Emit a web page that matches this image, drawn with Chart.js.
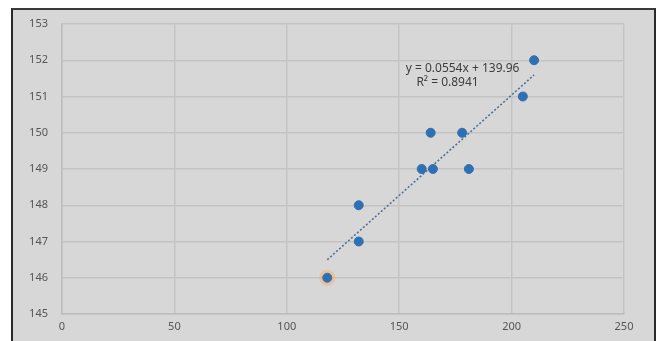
<!DOCTYPE html>
<html>
<head>
<meta charset="utf-8">
<script src="https://cdn.jsdelivr.net/npm/chart.js@4"></script>
<style>
  html, body { margin: 0; padding: 0; background: #ffffff; }
  #wrap { position: relative; width: 659px; height: 341px; overflow: hidden; }
  #frame {
    position: absolute; left: 11px; top: 8px; width: 641px; height: 340px;
    background: #d7d7d7; border-top: 2px solid #3a3a3a;
    border-left: 2px solid #2a2a2a; border-right: 2px solid #2a2a2a;
  }
  canvas { position: absolute; left: 0; top: 0; }
</style>
</head>
<body>
<div id="wrap">
  <div id="frame"></div>
  <canvas id="chart" width="659" height="341"></canvas>
</div>
<script>
// scatter values
const xValues = [118, 132, 132, 160, 165, 164, 178, 181, 205, 210];
const yValues = [146, 148, 147, 149, 149, 150, 150, 149, 151, 152];

// trendline as printed on the chart
const slope = 0.0554;
const intercept = 139.96;
const trendX = [118, 210];
const equationLines = ['y = 0.0554x + 139.96', 'R\u00B2 = 0.8941'];

// axes
const xTicks = [0, 50, 100, 150, 200, 250];
const yTicks = [145, 146, 147, 148, 149, 150, 151, 152, 153];

const points = xValues.map((x, i) => ({ x: x, y: yValues[i] }));
const trendPoints = trendX.map(x => ({ x: x, y: slope * x + intercept }));

const equationLabel = {
  id: 'equationLabel',
  afterDatasetsDraw(chart) {
    const { ctx, scales } = chart;
    ctx.save();
    ctx.font = '12px "Noto Sans", sans-serif';
    ctx.fillStyle = '#3c3c3c';
    ctx.textAlign = 'center';
    ctx.textBaseline = 'middle';
    ctx.fillText(equationLines[0], scales.x.getPixelForValue(178.2), scales.y.getPixelForValue(151.77));
    ctx.fillText(equationLines[1], scales.x.getPixelForValue(171.5), scales.y.getPixelForValue(151.38));
    ctx.restore();
  }
};

new Chart(document.getElementById('chart').getContext('2d'), {
  type: 'scatter',
  data: {
    datasets: [
      {
        label: 'Linear trend',
        type: 'line',
        data: trendPoints,
        borderColor: '#4d6f96',
        borderWidth: 1.6,
        borderDash: [2, 2],
        pointRadius: 0,
        fill: false,
        order: 2
      },
      {
        label: 'Values',
        data: points,
        backgroundColor: '#2f70b3',
        borderColor: '#2f70b3',
        pointRadius: 4.5,
        order: 1
      },
      {
        label: 'Highlight',
        data: [points[0]],
        backgroundColor: 'rgba(255, 170, 90, 0.45)',
        borderWidth: 0,
        pointRadius: 8,
        order: 3
      }
    ]
  },
  options: {
    responsive: false,
    animation: false,
    layout: { padding: { top: 24, right: 35, left: 0, bottom: 0 } },
    plugins: {
      legend: { display: false },
      tooltip: { enabled: false }
    },
    scales: {
      x: {
        type: 'linear',
        min: 0,
        max: 250,
        afterBuildTicks(scale) { scale.ticks = xTicks.map(v => ({ value: v })); },
        afterFit(scale) { scale.height = 27; },
        grid: { color: '#c4c4c4', lineWidth: 1.5, drawTicks: false },
        border: { color: '#bdbdbd', width: 1.5 },
        ticks: {
          color: '#555555',
          padding: 6,
          font: { family: '"Noto Sans", sans-serif', size: 11 }
        }
      },
      y: {
        type: 'linear',
        min: 145,
        max: 153,
        afterBuildTicks(scale) { scale.ticks = yTicks.map(v => ({ value: v })); },
        afterFit(scale) { scale.width = 62; },
        grid: { color: '#c4c4c4', lineWidth: 1.5, drawTicks: false },
        border: { color: '#bdbdbd', width: 1.5 },
        ticks: {
          color: '#555555',
          padding: 14,
          font: { family: '"Noto Sans", sans-serif', size: 11 }
        }
      }
    }
  },
  plugins: [equationLabel]
});
</script>
</body>
</html>
